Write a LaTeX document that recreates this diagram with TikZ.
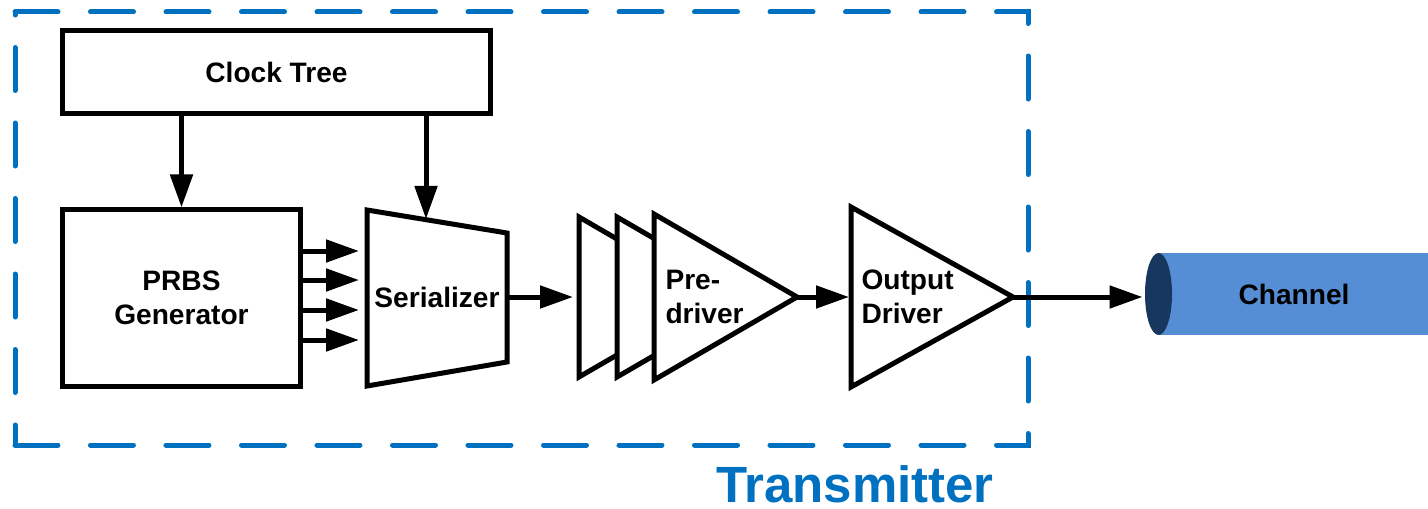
\documentclass[tikz,border=0pt]{standalone}
\usepackage{fontspec}
\setmainfont{Liberation Sans}
\usetikzlibrary{positioning, shapes.geometric}
\usetikzlibrary{arrows.meta}
\tikzset{>={Triangle[width=4.4mm,length=6.6mm]}}
\definecolor{txblue}{HTML}{0070C0}
\definecolor{chanblue}{HTML}{558ED5}
\definecolor{chandark}{HTML}{17375E}
\newcommand{\lbl}{\fontsize{16}{19}\selectfont\bfseries}

\begin{document}
\begin{tikzpicture}[x=0.2mm, y=-0.2mm, line width=1mm, block/.style={draw=black, line width=1mm, fill=white, font=\lbl, align=center, inner sep=0pt}, textnode/.style={font=\lbl, align=left, inner sep=0pt}, amp/.style={draw=black, line width=1mm, fill=white, line join=miter}, frame/.style={txblue, line width=1mm, line cap=round, dash pattern=on 8.6mm off 6.5mm}]

    \useasboundingbox (0,0) rectangle (1428,509);

    %Frame
    \draw[frame] (15,12) -- (1028,12) -- (1028,445) -- (15,445);
    \draw[frame, dash phase=8mm] (15,12) -- (15,445);

    %Nodes
    \node[block, minimum width=8.54cm, minimum height=1.67cm](clock) at (276.5,72){Clock Tree};
    \node[block, minimum width=4.74cm, minimum height=3.52cm](prbs) at (181.5,298){PRBS\\Generator};

    \draw[amp] (367,210) -- (507,233) -- (507,362) -- (367,386) -- cycle;
    \node[textnode](ser) at (437,297){Serializer};

    \foreach \x in {579,617} \draw[amp] (\x,217) -- ++(138,80) -- (\x,377) -- cycle;
    \draw[amp] (654,214) -- (797,297) coordinate (pretip) -- (654,380) -- cycle;
    \node[textnode, anchor=west](pre) at (663,297){Pre-\\driver};

    \draw[amp] (851,207) -- (1013,297) coordinate (drvtip) -- (851,387) -- cycle;
    \node[textnode, anchor=west](drv) at (859,297){Output\\Driver};

    \fill[chanblue] (1158,253) rectangle (1428,335);
    \node[ellipse, fill=chandark, inner sep=0pt, minimum width=5.4mm, minimum height=16.4mm](chanend) at (1158.5,294){};
    \node[textnode](chan) at (1294,294){Channel};

    \node[font=\fontsize{29}{34}\selectfont\bfseries, text=txblue, inner sep=0pt](tx) at (855,484){Transmitter};

    \coordinate (serclk) at (426,219);
    \coordinate (serout) at (507,297);
    \coordinate (prein) at (573,297);
    \coordinate (drvin) at (849,297);
    \foreach \y [count=\i] in {251,280,310,340} \coordinate (serin\i) at (359,\y);

    %Lines
    \draw[->] (clock.south -| prbs.north) -- (prbs.north);
    \draw[->] (clock.south -| serclk) -- (serclk);
    \foreach \i in {1,...,4} \draw[->] (prbs.east |- serin\i) -- (serin\i);
    \draw[->] (serout) -- (prein);
    \draw[->] (pretip) -- (drvin);
    \draw[->] (drvtip) -- (drvtip -| chanend.west);

\end{tikzpicture}
\end{document}
